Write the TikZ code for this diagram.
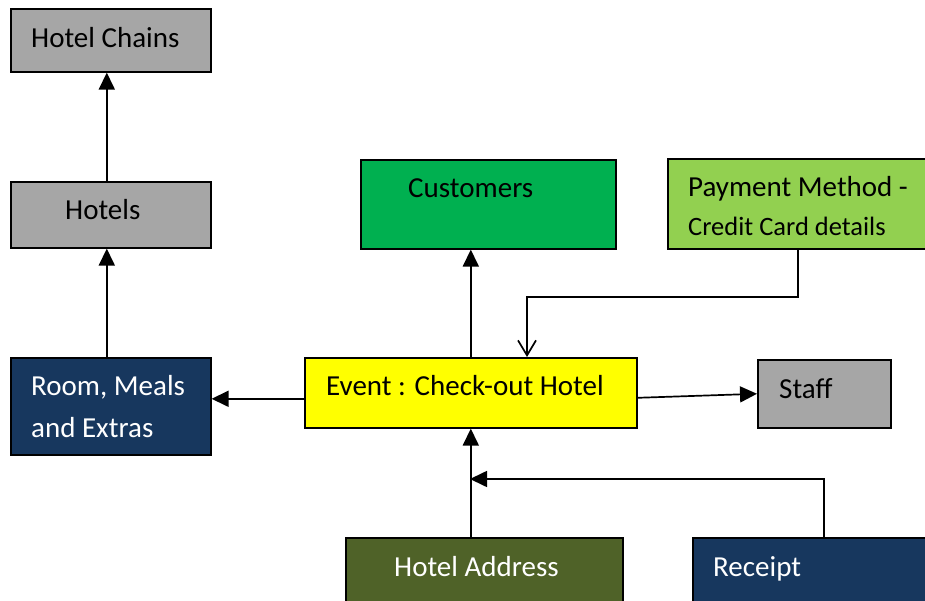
\documentclass[tikz,border=0pt]{standalone}
\usepackage{fontspec}
\setmainfont{Carlito}
\usetikzlibrary{arrows.meta,calc}
\definecolor{boxGray}{HTML}{A6A6A6}
\definecolor{boxNavy}{HTML}{17375E}
\definecolor{boxYellow}{HTML}{FFFF00}
\definecolor{boxGreen}{HTML}{00B050}
\definecolor{boxLime}{HTML}{92D050}
\definecolor{boxOlive}{HTML}{4F6228}
\tikzset{
  er diagram/.style={x=1pt, y=-1pt, line cap=butt,
    font=\fontsize{29}{42}\selectfont},
  er box/.style={draw=black, line width=1.6pt, rectangle,
    inner sep=0pt, anchor=north west},
  er text/.style={anchor=base west, inner sep=0pt, text=black, align=left},
  er light/.style={er text, text=white},
  er arrow/.style={-{Triangle[length=17pt,width=16pt]}, line width=1.7pt},
  er open arrow/.style={-{Straight Barb[length=15pt,width=18pt]}, line width=1.7pt}
}
\begin{document}
\begin{tikzpicture}[er diagram]
\useasboundingbox (0,0) rectangle (925,601);
% boxes
\node[er box, fill=boxGray, minimum width=200, minimum height=63] (chains) at (10,8) {};
\node[er box, fill=boxGray, minimum width=200, minimum height=66] (hotels) at (10,181) {};
\node[er box, fill=boxNavy, minimum width=200, minimum height=97] (room) at (10,357) {};
\node[er box, fill=boxYellow, minimum width=332, minimum height=70] (event) at (304,357) {};
\node[er box, fill=boxGreen, minimum width=255, minimum height=89] (cust) at (360,159) {};
\node[er box, fill=boxLime, minimum width=260, minimum height=90] (pay) at (667,158) {};
\node[er box, fill=boxGray, minimum width=133, minimum height=68] (staff) at (757,359) {};
\node[er box, fill=boxOlive, minimum width=277, minimum height=80] (addr) at (345,537) {};
\node[er box, fill=boxNavy, minimum width=240, minimum height=80] (rcpt) at (692,537) {};
% texts
\node[er text] (chainsText) at (31,48) {Hotel Chains};
\node[er text] (hotelsText) at (65,220) {Hotels};
\node[er light] (roomText) at (31,437) {Room, Meals\\and Extras};
\node[er text] (eventText) at (326,395) {Event : Check-out Hotel};
\node[er text] (custText) at (408,198) {Customers};
\node[er text] (payText) at (688,197) {Payment Method -};
\node[er text, font=\fontsize{26.5}{32}\selectfont] (cardText) at (688,236) {Credit Card details};
\node[er text] (staffText) at (779,398) {Staff};
\node[er light] (addrText) at (394,576) {Hotel Address};
\node[er light] (rcptText) at (713,576) {Receipt};
% connectors
\coordinate (payBend) at (527,297);
\coordinate (rcptJoin) at (470,479);
\draw[er arrow] ([xshift=-4pt]hotels.north) -- ([xshift=-4pt]chains.south);
\draw[er arrow] ([xshift=-4pt]room.north) -- ([xshift=-4pt]hotels.south);
\draw[er arrow] ([yshift=-6pt]event.west) -- ([yshift=-6pt]event.west -| room.east);
\draw[er arrow] (event.north) -- (event.north |- cust.south);
\draw[er open arrow] (pay.south) |- (payBend) -- (payBend |- event.north);
\draw[er arrow] ([yshift=-5pt]event.east) -- (staff.west);
\draw[er arrow] (event.south |- addr.north) -- (event.south);
\draw[er arrow] ([xshift=11pt]rcpt.north) |- (rcptJoin);
\end{tikzpicture}
\end{document}
